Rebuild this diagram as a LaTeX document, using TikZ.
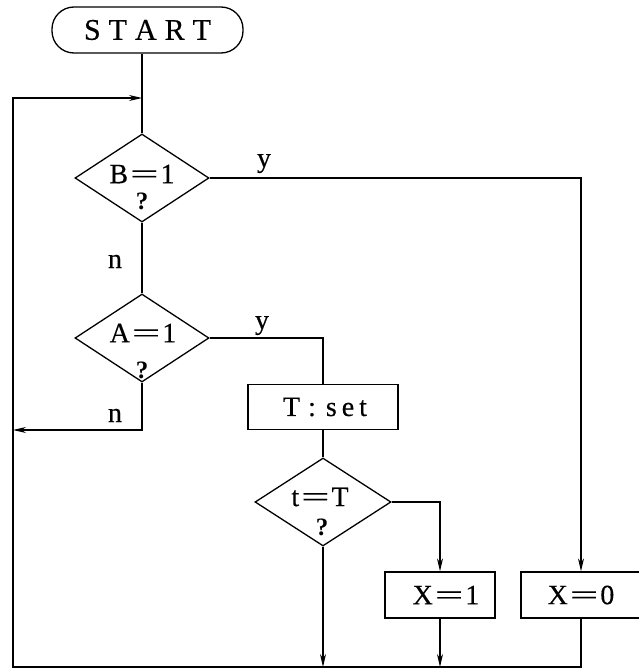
\documentclass[tikz,border=0pt]{standalone}
\usepackage{fontspec}
\setmainfont{Liberation Serif}
\newfontfamily\hvy[FakeBold=0.35]{Liberation Serif}
\usepackage{graphicx}
\usetikzlibrary{arrows.meta,shapes.geometric}
\newcommand\Leq{\kern2pt\scalebox{1.8}[1]{=}\kern2pt}
\begin{document}
\begin{tikzpicture}[x=1pt,y=-1pt,line width=1.3pt,
  txt/.style={font=\hvy\fontsize{28}{32}\selectfont, inner sep=0pt},
  qm/.style={font=\fontsize{25}{28}\selectfont\bfseries, inner sep=0pt},
  dia/.style={draw, diamond, inner sep=0pt, minimum width=134pt, minimum height=88pt},
  box/.style={draw, rectangle, inner sep=0pt, minimum height=45pt},
  arr/.style={-{Stealth[length=13pt,width=6pt]}}]
\useasboundingbox (0,0) rectangle (639,669);
% nodes
\node[draw, rounded corners=22pt, minimum width=191pt, minimum height=46pt, inner sep=0pt,
      font=\hvy\fontsize{30}{34}\selectfont] (start) at (147.5,30)
      {S\hspace{8pt}T\hspace{8pt}A\hspace{8pt}R\hspace{8pt}T};
\node[dia] (B) at (142,178) {};
\node[txt] (Bt) at (142,174) {B\Leq 1};
\node[qm] (Bq) at (142,201) {?};
\node[dia] (A) at (142,338) {};
\node[txt] (At) at (143,333) {A\Leq 1};
\node[qm] (Aq) at (142,370) {?};
\node[box, txt, minimum width=150pt] (T) at (323,407)
      {\hspace*{4pt}T\hspace{8pt}:\hspace{10pt}s\hspace{5pt}e\hspace{5pt}t};
\node[dia, minimum width=136pt] (tT) at (323,502) {};
\node[txt] (tTt) at (320,497) {t\Leq T};
\node[qm] (tTq) at (322,527) {?};
\node[box, txt, minimum width=110pt, minimum height=46pt] (X1) at (440,595) {\hspace*{12pt}X\Leq 1};
\node[box, txt, minimum width=120pt, minimum height=46pt] (X0) at (581,595) {X\Leq 0};
% labels
\node[txt, anchor=base] (By) at (264,167) {y};
\node[txt, anchor=base] (Bn) at (115,268) {n};
\node[txt, anchor=base] (Ay) at (262,329) {y};
\node[txt, anchor=base] (An) at (115,422) {n};
% coordinates
\coordinate (merge) at (142,98);
\coordinate (bl) at (13,667);
\coordinate (al) at (13,430);
% connectors
\draw (start.south -| B.north) -- (B.north);
\draw[arr] (X0.south) |- (bl) |- (merge);
\draw[arr] (B.east) -| (X0.north);
\draw (B.south) -- (A.north);
\draw (A.east) -| (T.north);
\draw[arr] (A.south) |- (al);
\draw (T.south) -- (tT.north);
\draw[arr] (tT.east) -| (X1.north);
\draw[arr] (tT.south) -- (tT.south |- bl);
\draw[arr] (X1.south) -- (X1.south |- bl);
\end{tikzpicture}
\end{document}
